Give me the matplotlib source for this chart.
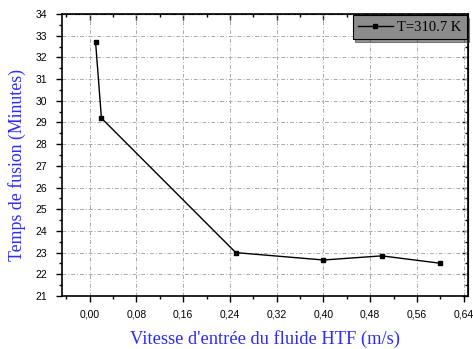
import matplotlib
matplotlib.use("Agg")
import matplotlib.pyplot as plt
from matplotlib.ticker import MultipleLocator, FuncFormatter

velocity = [0.01, 0.02, 0.25, 0.40, 0.50, 0.60]
melt_time = [32.7, 29.2, 23.0, 22.66, 22.85, 22.51]
series_label = "T=310.7 K"
xlabel = "Vitesse d'entrée du fluide HTF (m/s)"
ylabel = "Temps de fusion (Minutes)"

fig = plt.figure(figsize=(4.73, 3.49), dpi=100)
ax = fig.add_axes([62/473, 1-296/349, (468-62)/473, (296-14)/349])

ax.plot(velocity, melt_time, color="black", lw=1.0, marker="s", ms=2.2,
        label=series_label)

ax.set_xlim(-0.0475, 0.6475)
ax.set_ylim(21, 34)
ax.xaxis.set_major_locator(MultipleLocator(0.08))
ax.xaxis.set_minor_locator(MultipleLocator(0.04))
ax.yaxis.set_major_locator(MultipleLocator(1))
ax.yaxis.set_minor_locator(MultipleLocator(0.5))
ax.xaxis.set_major_formatter(FuncFormatter(lambda v, p: f"{v:.2f}".replace(".", ",")))
ax.yaxis.set_major_formatter(FuncFormatter(lambda v, p: f"{v:.0f}"))

for lab in ax.get_xticklabels() + ax.get_yticklabels():
    lab.set_family("Liberation Sans")
    lab.set_fontsize(7.5)

ax.tick_params(which="both", direction="out", top=False, right=False, width=1)
ax.tick_params(which="major", length=4)
ax.tick_params(which="minor", length=2.5)
ax.tick_params(axis="y", which="major", pad=6.5)
ax.tick_params(axis="x", which="major", pad=5.5)
# inward ticks on top and right
ax2 = ax.secondary_xaxis("top")
ax2.xaxis.set_major_locator(MultipleLocator(0.08))
ax2.xaxis.set_minor_locator(MultipleLocator(0.04))
ax2.tick_params(which="both", direction="in", labeltop=False, width=1)
ax2.tick_params(which="major", length=4)
ax2.tick_params(which="minor", length=2.5)
ax3 = ax.secondary_yaxis("right")
ax3.yaxis.set_major_locator(MultipleLocator(1))
ax3.yaxis.set_minor_locator(MultipleLocator(0.5))
ax3.tick_params(which="both", direction="in", labelright=False, width=1)
ax3.tick_params(which="major", length=4)
ax3.tick_params(which="minor", length=2.5)

for s in ax.spines.values():
    s.set_linewidth(1.2)

ax.grid(True, which="major", color="#aaaaaa", linestyle=(0, (4, 2, 1, 2)), linewidth=0.7)

ax.set_xlabel(xlabel, family="Liberation Serif", fontsize=13.3, color="#2b2bff")
ax.set_ylabel(ylabel, family="Liberation Serif", fontsize=12.8, color="#2b2bff")
ax.xaxis.set_label_coords(0.5, -0.12)
ax.yaxis.set_label_coords(-0.088, 0.465)

leg = ax.legend(loc="upper right", prop={"family": "Liberation Serif", "size": 10.5},
                frameon=True, fancybox=False, shadow=True, framealpha=1,
                borderaxespad=0.1, handlelength=2.4, handletextpad=0.3,
                borderpad=0.35)
leg.get_frame().set_facecolor("#8c8c8c")
leg.get_frame().set_edgecolor("black")
leg.get_frame().set_linewidth(0.8)

fig.savefig("out.png", dpi=100)
